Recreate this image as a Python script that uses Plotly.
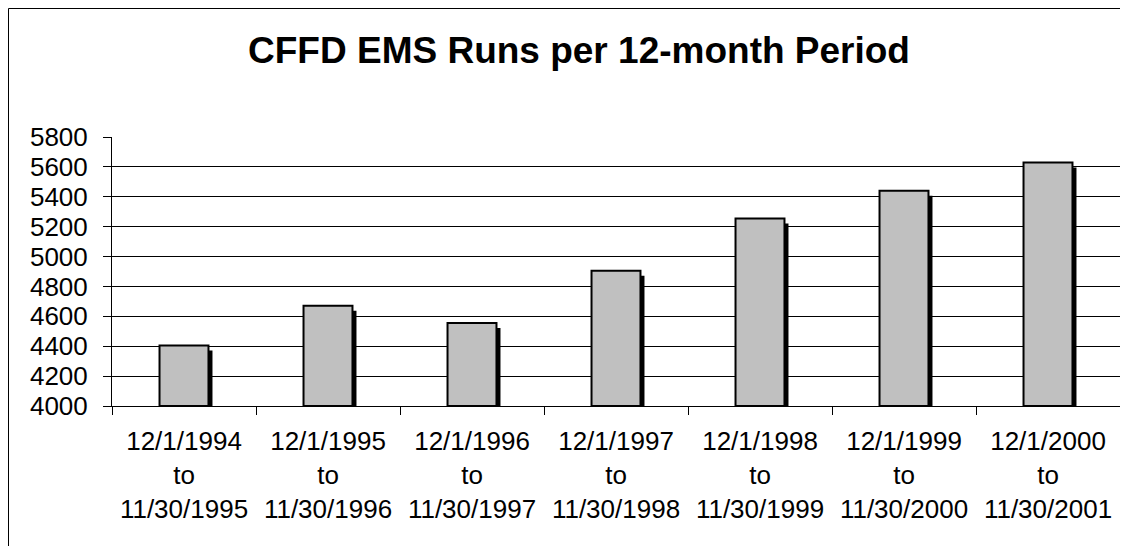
import plotly.graph_objects as go

periods = [
    "12/1/1994<br>to<br>11/30/1995",
    "12/1/1995<br>to<br>11/30/1996",
    "12/1/1996<br>to<br>11/30/1997",
    "12/1/1997<br>to<br>11/30/1998",
    "12/1/1998<br>to<br>11/30/1999",
    "12/1/1999<br>to<br>11/30/2000",
    "12/1/2000<br>to<br>11/30/2001",
]
ems_runs = [4405, 4670, 4555, 4905, 5255, 5440, 5630]

y_min, y_max, y_step = 4000, 5800, 200

# page body has an 8px margin, so the figure is sized to fit what is left
W, H = 1120, 538
L, R, T, B = 104, 8, 129, 140
plot_w = W - L - R
plot_h = H - T - B

FONT = "Liberation Sans, Arial, sans-serif"
bar_w = 0.34
# drop shadow: a few pixels right and down, converted to axis units
shadow_dx = 4 / (plot_w / len(periods))
shadow_dy = 5 / plot_h * (y_max - y_min)

fig = go.Figure()
fig.add_trace(go.Bar(
    x=periods, y=[v - y_min - shadow_dy for v in ems_runs], base=y_min,
    width=bar_w, offset=-bar_w / 2 + shadow_dx,
    marker=dict(color="black", line=dict(width=0)),
    hoverinfo="skip",
))
fig.add_trace(go.Bar(
    x=periods, y=[v - y_min for v in ems_runs], base=y_min,
    width=bar_w, offset=-bar_w / 2,
    marker=dict(color="#C0C0C0", line=dict(color="black", width=2)),
))

# outer chart border (right/bottom sides fall outside the window)
fig.add_shape(
    type="rect", xref="paper", yref="paper",
    x0=(0.5 - L) / plot_w, x1=(W + 10 - L) / plot_w,
    y0=-(H + 10 - T - plot_h) / plot_h, y1=(H - B - 0.5) / plot_h,
    line=dict(color="black", width=1), fillcolor="rgba(0,0,0,0)", layer="below",
)

fig.update_layout(
    width=W, height=H,
    margin=dict(l=L, r=R, t=T, b=B),
    paper_bgcolor="white", plot_bgcolor="white",
    barmode="overlay", showlegend=False,
    font=dict(family=FONT, size=26, color="black"),
    title=dict(
        text="<b>CFFD EMS Runs per 12-month Period</b>",
        font=dict(family=FONT, size=37, color="black"),
        x=571 / W, xref="container", xanchor="center",
        y=1 - 42 / H, yref="container", yanchor="middle",
    ),
)
fig.update_yaxes(
    range=[y_min, y_max], dtick=y_step, tick0=y_min,
    showgrid=True, gridcolor="black", gridwidth=1,
    showline=True, linecolor="black", linewidth=1,
    ticks="outside", ticklen=8, tickcolor="black", tickwidth=1,
    ticklabelstandoff=10, zeroline=False,
    tickfont=dict(family=FONT, size=26, color="black"),
)
fig.update_xaxes(
    showgrid=False, showline=True, linecolor="black", linewidth=1,
    ticks="outside", ticklen=8, tickcolor="black", tickwidth=1,
    tickson="boundaries", tickangle=0, ticklabelstandoff=12,
    tickfont=dict(family=FONT, size=26, color="black"),
)

fig.write_html("out.html")
